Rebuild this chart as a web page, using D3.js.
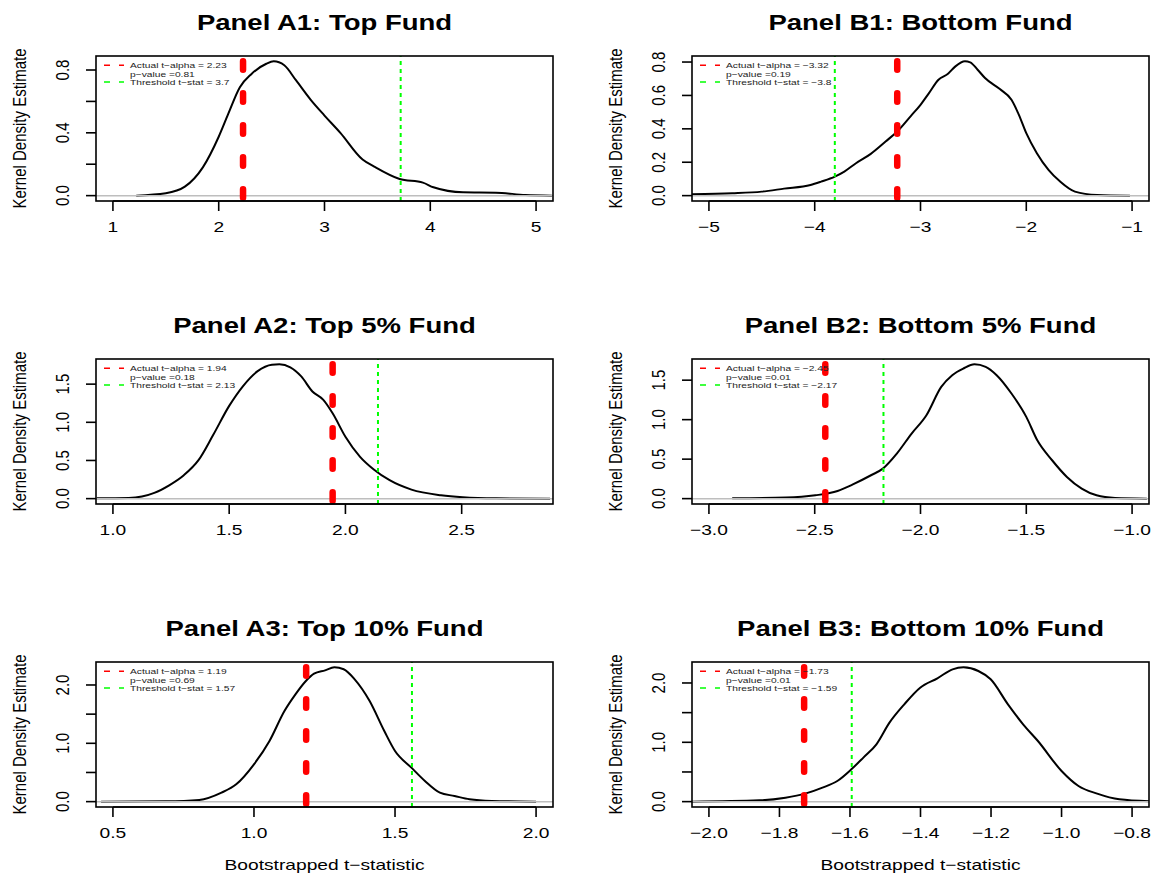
<!DOCTYPE html>
<html>
<head>
<meta charset="utf-8">
<script src="https://cdn.jsdelivr.net/npm/d3@7"></script>
<style>
body { margin: 0; background: #fff; }
svg { display: block; font-family: "Liberation Sans", Arial, Helvetica, sans-serif; }
</style>
</head>
<body>
<svg id="chart" width="1158" height="877"></svg>
<script>
// Panel titles, in reading order (A panels on the left, B panels on the right)
var titles = ['Panel A1: Top Fund', 'Panel B1: Bottom Fund',
              'Panel A2: Top 5% Fund', 'Panel B2: Bottom 5% Fund',
              'Panel A3: Top 10% Fund', 'Panel B3: Bottom 10% Fund'];

// Kernel density curves (x = bootstrapped t, y = density)
var a1X = [1.22, 1.50, 1.68, 1.85, 2.0, 2.09, 2.20, 2.31, 2.45, 2.52, 2.62, 2.73, 2.87, 3.0, 3.15, 3.36, 3.47, 3.71, 3.93, 4.03, 4.31, 4.62, 4.9, 5.15];
var a1Y = [0, 0.015, 0.057, 0.18, 0.375, 0.52, 0.69, 0.775, 0.84, 0.855, 0.83, 0.735, 0.61, 0.51, 0.40, 0.23, 0.185, 0.106, 0.083, 0.053, 0.021, 0.019, 0.004, 0];

var b1X = [-5.16, -4.78, -4.50, -4.29, -4.04, -3.94, -3.81, -3.72, -3.61, -3.47, -3.33, -3.22, -3.09, -3.0, -2.92, -2.83, -2.74, -2.67, -2.58, -2.53, -2.46, -2.39, -2.25, -2.14, -2.07, -2.0, -1.90, -1.79, -1.68, -1.54, -1.33, -1.02];
var b1Y = [0.008, 0.014, 0.024, 0.042, 0.064, 0.084, 0.114, 0.144, 0.194, 0.25, 0.324, 0.384, 0.478, 0.544, 0.614, 0.694, 0.73, 0.774, 0.804, 0.798, 0.754, 0.704, 0.638, 0.574, 0.484, 0.374, 0.254, 0.154, 0.084, 0.024, 0.004, 0];

var a2X = [0.93, 1.068, 1.178, 1.242, 1.305, 1.368, 1.431, 1.50, 1.558, 1.621, 1.684, 1.716, 1.763, 1.81, 1.858, 1.905, 1.945, 2.0, 2.063, 2.122, 2.19, 2.284, 2.411, 2.505, 2.648, 2.88];
var a2Y = [0.004, 0.009, 0.075, 0.175, 0.307, 0.504, 0.833, 1.215, 1.469, 1.667, 1.755, 1.759, 1.72, 1.601, 1.404, 1.294, 1.118, 0.811, 0.548, 0.382, 0.241, 0.118, 0.044, 0.018, 0.004, 0];

var b2X = [-2.89, -2.636, -2.497, -2.392, -2.322, -2.234, -2.178, -2.112, -2.042, -1.972, -1.902, -1.85, -1.797, -1.745, -1.692, -1.64, -1.57, -1.5, -1.448, -1.378, -1.308, -1.238, -1.168, -1.08, -0.93];
var b2Y = [0.004, 0.013, 0.042, 0.097, 0.177, 0.296, 0.38, 0.57, 0.824, 1.056, 1.415, 1.563, 1.648, 1.70, 1.669, 1.563, 1.331, 1.035, 0.739, 0.486, 0.275, 0.127, 0.042, 0.008, 0];

var a3X = [0.458, 0.688, 0.806, 0.885, 0.937, 1.0, 1.055, 1.108, 1.147, 1.184, 1.213, 1.252, 1.285, 1.318, 1.357, 1.41, 1.462, 1.5, 1.558, 1.606, 1.659, 1.711, 1.764, 1.843, 2.0];
var a3Y = [0, 0.006, 0.029, 0.154, 0.297, 0.64, 1.04, 1.554, 1.84, 2.069, 2.194, 2.251, 2.302, 2.269, 2.097, 1.726, 1.211, 0.869, 0.583, 0.354, 0.154, 0.097, 0.04, 0.011, 0];

var b3X = [-2.049, -1.857, -1.783, -1.727, -1.678, -1.636, -1.596, -1.562, -1.525, -1.488, -1.446, -1.401, -1.352, -1.309, -1.278, -1.236, -1.201, -1.152, -1.109, -1.067, -1.0, -0.952, -0.899, -0.836, -0.752];
var b3Y = [0, 0.022, 0.067, 0.135, 0.236, 0.348, 0.545, 0.742, 0.966, 1.331, 1.64, 1.921, 2.079, 2.23, 2.263, 2.202, 2.062, 1.64, 1.303, 1.022, 0.517, 0.264, 0.135, 0.039, 0.006];

var curvesX = [a1X, b1X, a2X, b2X, a3X, b3X];
var curvesY = [a1Y, b1Y, a2Y, b2Y, a3Y, b3Y];

// x range of each panel before R's 4% padding
var xRanges = [[1, 5], [-5, -1], [1, 2.82], [-3, -1], [0.5, 2.0], [-2, -0.8]];

// where the red (actual) and green (threshold) lines sit, and their legend texts
var actualT = [2.23, -3.22, 1.945, -2.45, 1.185, -1.73];
var actualText = ['2.23', '\u22123.32', '1.94', '\u22122.45', '1.19', '\u22121.73'];
var pValues = ['0.81', '0.19', '0.18', '0.01', '0.69', '0.01'];
var thresholdT = [3.72, -3.81, 2.14, -2.175, 1.56, -1.595];
var thresholdText = ['3.7', '\u22123.8', '2.13', '\u22122.17', '1.57', '\u22121.59'];

// axis ticks
var xTicks = [[1, 2, 3, 4, 5], [-5, -4, -3, -2, -1], [1.0, 1.5, 2.0, 2.5], [-3.0, -2.5, -2.0, -1.5, -1.0],
              [0.5, 1.0, 1.5, 2.0], [-2.0, -1.8, -1.6, -1.4, -1.2, -1.0, -0.8]];
var xDecimals = [0, 0, 1, 1, 1, 1];
var yTicks = [[0, 0.2, 0.4, 0.6, 0.8], [0, 0.2, 0.4, 0.6, 0.8], [0, 0.5, 1.0, 1.5], [0, 0.5, 1.0, 1.5],
              [0, 0.5, 1.0, 1.5, 2.0], [0, 0.5, 1.0, 1.5, 2.0]];
var yLabelled = [[0, 0.4, 0.8], [0, 0.2, 0.4, 0.6, 0.8], [0, 0.5, 1.0, 1.5], [0, 0.5, 1.0, 1.5],
                 [0, 1.0, 2.0], [0, 1.0, 2.0]];

var yLab = 'Kernel Density Estimate';
var xLab = 'Bootstrapped t\u2212statistic';

// Layout of the plot boxes
var colLeft = [96, 692];
var boxW = 457, boxH = 145;
var rowTop = 56, rowStep = 303;

// the reference picture is stretched sideways, so text is too
var XS = 1.28;

var svg = d3.select('#chart');

function fmt(v, dec) {
	return (v < 0 ? '\u2212' : '') + Math.abs(v).toFixed(dec);
}

function addText(g, x, y, str, size, opts) {
	opts = opts || {};
	var tf = 'translate(' + x + ',' + y + ')' + (opts.rot ? ' rotate(-90) scale(1,' + XS + ')' : ' scale(' + XS + ',1)');
	var t = g.append('text')
		.attr('transform', tf)
		.attr('font-size', size)
		.attr('text-anchor', opts.anchor || 'middle')
		.attr('fill', opts.fill || '#000')
		.text(str);
	if (opts.bold) t.attr('font-weight', 'bold');
	return t;
}

titles.forEach(function(title, i) {
	var col = i % 2, row = Math.floor(i / 2);
	var left = colLeft[col], top = rowTop + row * rowStep;
	var g = svg.append('g').attr('transform', 'translate(' + left + ',' + top + ')');

	var xr = xRanges[i], pad = 0.04 * (xr[1] - xr[0]);
	var x = d3.scaleLinear().domain([xr[0] - pad, xr[1] + pad]).range([0, boxW]);
	var ymax = d3.max(curvesY[i]);
	var y = d3.scaleLinear().domain([-0.04 * ymax, 1.04 * ymax]).range([boxH, 0]);

	var clipId = 'clip' + i;
	g.append('clipPath').attr('id', clipId)
		.append('rect').attr('width', boxW).attr('height', boxH);
	var plot = g.append('g').attr('clip-path', 'url(#' + clipId + ')');

	// density curve
	var pts = curvesX[i].map(function(v, k) { return [v, curvesY[i][k]]; });
	plot.append('path')
		.datum(pts)
		.attr('d', d3.line().x(function(d) { return x(d[0]); }).y(function(d) { return y(d[1]); }).curve(d3.curveMonotoneX))
		.attr('fill', 'none')
		.attr('stroke', '#000')
		.attr('stroke-width', 2);

	// zero line
	plot.append('line')
		.attr('x1', 0).attr('x2', boxW)
		.attr('y1', y(0)).attr('y2', y(0))
		.attr('stroke', '#bebebe')
		.attr('stroke-width', 1.5);

	// legend, no frame
	var lg = g.append('g');
	var rowsY = [9.3, 18, 26];
	lg.append('line')
		.attr('x1', 8).attr('x2', 28).attr('y1', rowsY[0]).attr('y2', rowsY[0])
		.attr('stroke', '#ff0000').attr('stroke-width', 1.5).attr('stroke-dasharray', '6,9');
	lg.append('line')
		.attr('x1', 8).attr('x2', 28).attr('y1', rowsY[2]).attr('y2', rowsY[2])
		.attr('stroke', '#00ff00').attr('stroke-width', 1.5).attr('stroke-dasharray', '6,9');
	var legTexts = ['Actual t\u2212alpha = ' + actualText[i], 'p\u2212value =' + pValues[i],
	                'Threshold t\u2212stat = ' + thresholdText[i]];
	legTexts.forEach(function(s, k) {
		addText(lg, 34, rowsY[k] + 3, s, 8, {anchor: 'start', fill: '#222'});
	});

	// threshold (green) and actual (red) lines, drawn from the bottom up like abline
	plot.append('line')
		.attr('x1', x(thresholdT[i])).attr('x2', x(thresholdT[i]))
		.attr('y1', boxH).attr('y2', 0)
		.attr('stroke', '#00ff00').attr('stroke-width', 2)
		.attr('stroke-dasharray', '4,4');
	plot.append('line')
		.attr('x1', x(actualT[i])).attr('x2', x(actualT[i]))
		.attr('y1', boxH - 3.3).attr('y2', 0)
		.attr('stroke', '#ff0000').attr('stroke-width', 6.5)
		.attr('stroke-linecap', 'round')
		.attr('stroke-dasharray', '8.5,23.5');

	// box
	g.append('rect')
		.attr('width', boxW).attr('height', boxH)
		.attr('fill', 'none').attr('stroke', '#000').attr('stroke-width', 1.6);

	// x axis
	var xt = xTicks[i];
	g.selectAll('.xtick').data(xt).enter().append('line')
		.attr('x1', function(d) { return x(d); }).attr('x2', function(d) { return x(d); })
		.attr('y1', boxH).attr('y2', boxH + 10)
		.attr('stroke', '#000').attr('stroke-width', 1.6);
	g.append('line')
		.attr('x1', x(xt[0])).attr('x2', x(xt[xt.length - 1]))
		.attr('y1', boxH).attr('y2', boxH)
		.attr('stroke', '#000').attr('stroke-width', 1.6);
	xt.forEach(function(d) {
		addText(g, x(d), boxH + 31, fmt(d, xDecimals[i]), 15);
	});

	// y axis
	var yt = yTicks[i];
	g.selectAll('.ytick').data(yt).enter().append('line')
		.attr('x1', 0).attr('x2', -10)
		.attr('y1', function(d) { return y(d); }).attr('y2', function(d) { return y(d); })
		.attr('stroke', '#000').attr('stroke-width', 1.6);
	yLabelled[i].forEach(function(d) {
		addText(g, -27, y(d), fmt(d, 1), 15, {rot: true});
	});

	// titles
	addText(g, boxW / 2, -26.5, title, 21.5, {bold: true});
	addText(g, -70, boxH / 2, yLab, 15, {rot: true});
	if (row === 2) {
		addText(g, boxW / 2, boxH + 63, xLab, 15);
	}
});
</script>
</body>
</html>
